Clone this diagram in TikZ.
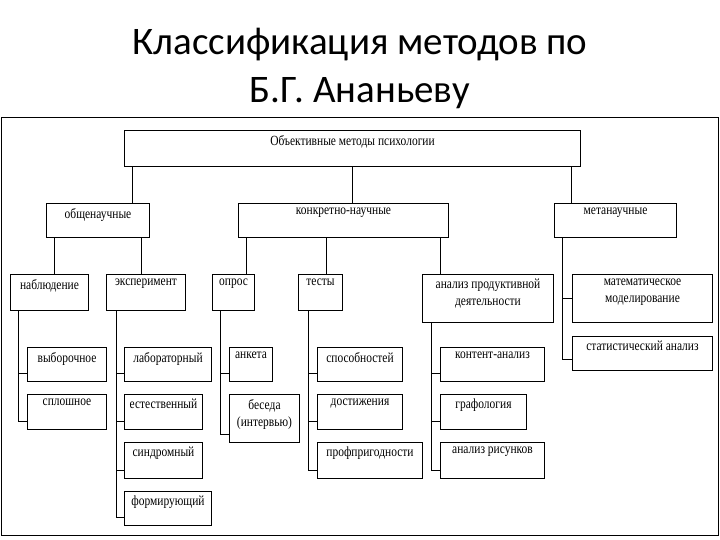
\documentclass[tikz,border=0pt]{standalone}
\usepackage{fontspec}
\setmainfont{Liberation Serif}
\newfontfamily\boxfont[FakeStretch=0.82]{Liberation Serif}
\newfontfamily\titlefont{Carlito}
\usetikzlibrary{calc}
\newcommand{\bx}[6]{%
  \node[box, minimum width={(#4-#2)*1pt}, minimum height={(#5-#3)*1pt}, anchor=north west] (#1) at (#2,-#3) {};
  \node[lbl] (#1-t) at ($(#1.north)+(0,-5)$) {#6};}
\begin{document}
\begin{tikzpicture}[x=1pt,y=1pt,
  box/.style={draw, line width=1pt, inner sep=0pt},
  lbl/.style={anchor=north, inner sep=0pt, font=\boxfont\fontsize{14}{17}\selectfont, align=center},
  ln/.style={line width=1pt}]
\useasboundingbox (0,0) rectangle (720,-540);
\fill[white] (0,0) rectangle (720,-540);
\node[font=\titlefont\fontsize{39}{48}\selectfont, align=center] (title) at (360,-68) {Классификация методов по\\Б.Г. Ананьеву};
\draw[line width=0.8pt] (1,-117) rectangle (718,-535);
\bx{top}{124}{130}{580}{166}{Объективные методы психологии}
\bx{obs}{46}{203}{149}{237}{общенаучные}
\bx{kon}{238}{203}{448}{237}{конкретно-научные}
\bx{met}{554}{203}{676}{237}{метанаучные}
\bx{nab}{10}{274}{88}{310}{наблюдение}
\bx{eks}{106}{274}{185}{310}{эксперимент}
\bx{opr}{212}{274}{254}{310}{опрос}
\bx{tes}{298}{274}{342}{310}{тесты}
\bx{anp}{422}{274}{553}{322}{анализ продуктивной\\деятельности}
\bx{mat}{572}{274}{712}{322}{математическое\\моделирование}
\bx{sta}{572}{336}{712}{370}{статистический анализ}
\bx{vyb}{27}{347}{106}{381}{выборочное}
\bx{spl}{27}{394}{106}{429}{сплошное}
\bx{lab}{124}{347}{211}{381}{лабораторный}
\bx{est}{124}{394}{202}{429}{естественный}
\bx{sin}{124}{442}{202}{478}{синдромный}
\bx{frm}{124}{491}{211}{525}{формирующий}
\bx{ank}{229}{347}{272}{381}{анкета}
\bx{bes}{229}{394}{299}{442}{беседа\\(интервью)}
\bx{spo}{317}{347}{402}{381}{способностей}
\bx{dos}{317}{394}{402}{429}{достижения}
\bx{pro}{317}{442}{422}{478}{профпригодности}
\bx{kan}{440}{347}{544}{381}{контент-анализ}
\bx{gra}{440}{394}{526}{429}{графология}
\bx{ris}{440}{442}{544}{478}{анализ рисунков}
\foreach \x/\c in {132/obs,352/kon,571/met} \draw[ln] (top.south -| \x,0) -- (\c.north -| \x,0);
\foreach \x/\p/\c in {54/obs/nab,141/obs/eks,246/kon/opr,326/kon/tes,440/kon/anp}
  \draw[ln] (\p.south -| \x,0) -- (\c.north -| \x,0);
\foreach \x/\p/\list in {18/nab/{vyb,spl},116/eks/{lab,est,sin,frm},220/opr/{ank,bes},308/tes/{spo,dos,pro},431/anp/{kan,gra,ris}}{
  \foreach \c in \list \draw[ln] (\p.south -| \x,0) |- ($(\c.south west)+(0,9)$);}
\draw[ln] (met.south -| 562,0) |- (mat.west);
\draw[ln] (met.south -| 562,0) |- ($(sta.south west)+(0,12)$);
\end{tikzpicture}
\end{document}
